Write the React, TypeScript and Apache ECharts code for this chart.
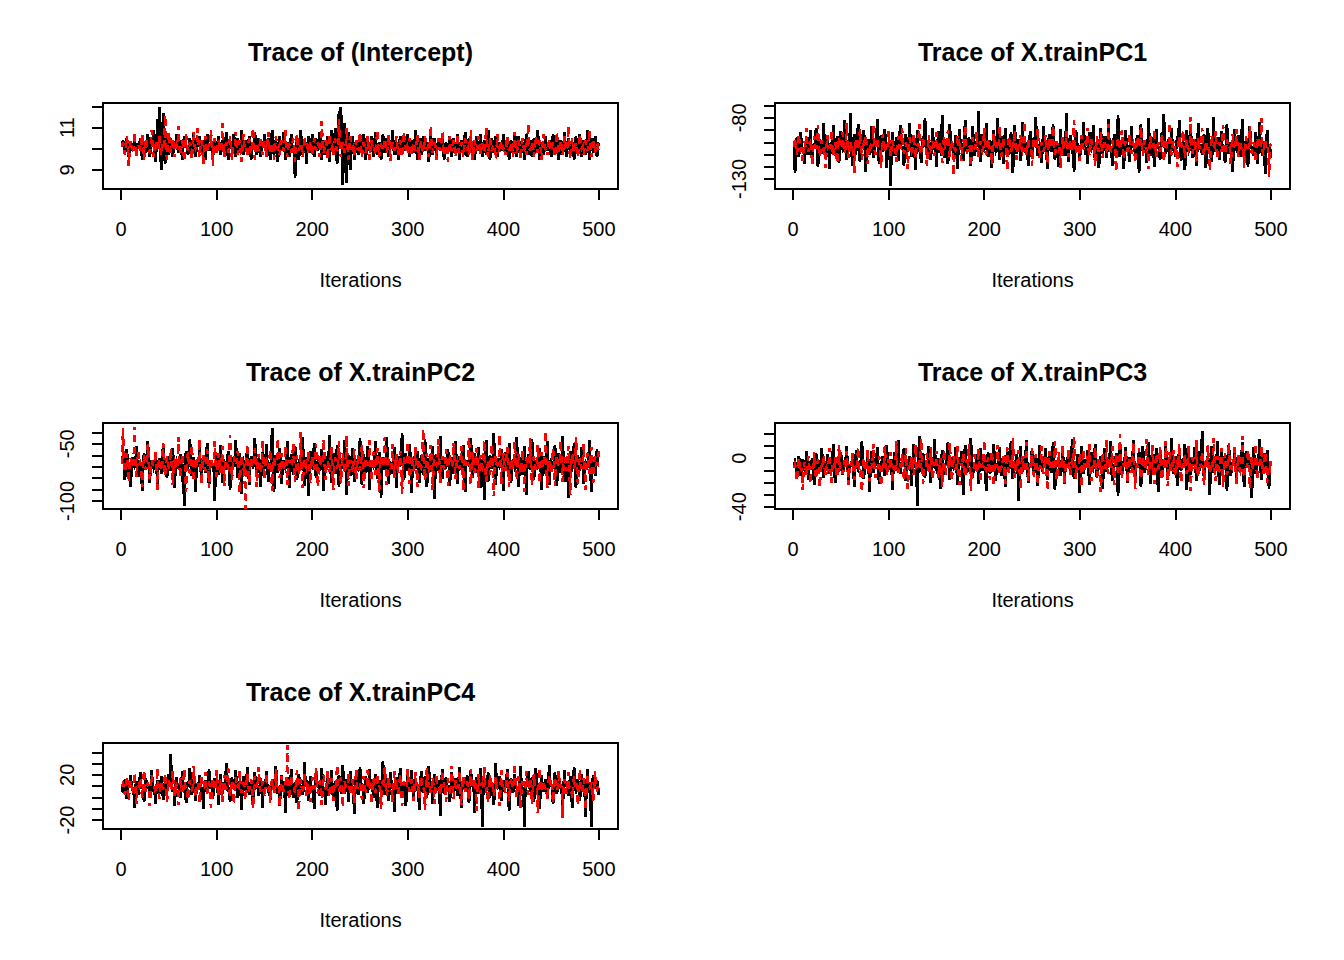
import React, { useEffect, useRef } from "react";
import * as echarts from "echarts";

// ---------- data (one value per 2 iterations, chains return to a baseline between draws) ----------
const ITER_TICKS = [0, 100, 200, 300, 400, 500];
const TITLES = ["Trace of (Intercept)", "Trace of X.trainPC1", "Trace of X.trainPC2", "Trace of X.trainPC3", "Trace of X.trainPC4"];

const P1_BASE_A = 10.1;
const P1_BASE_B = 10.1;
const P1_A = [
  10.4, 9.8, 10.5, 9.6, 10.3, 9.9, 10.6, 9.7, 10.2, 10.5, 9.5, 10.3, 9.8, 10.7, 9.6, 10.4, 10.9, 9.4, 11.4, 12.0, 9.0, 11.7, 9.3, 10.6, 9.7,
  10.5, 9.6, 10.2, 10.7, 9.8, 10.4, 9.5, 10.6, 10.1, 9.7, 10.5, 9.9, 10.8, 9.6, 10.3, 10.6, 9.8, 10.4, 9.5, 10.7, 9.9, 10.3, 9.6, 10.5, 10.0,
  10.6, 9.7, 10.4, 9.9, 10.8, 9.5, 10.3, 10.0, 10.7, 9.6, 10.5, 9.8, 10.9, 9.7, 10.4, 9.9, 10.6, 9.5, 10.3, 10.8, 9.7, 10.5, 9.6, 10.2, 10.7,
  9.8, 10.5, 9.5, 10.9, 9.7, 10.4, 9.4, 10.6, 9.9, 10.8, 9.5, 10.3, 9.6, 10.7, 9.8, 8.6, 10.5, 9.5, 10.9, 9.7, 10.4, 9.3, 10.6, 9.8, 10.7,
  9.6, 10.5, 9.9, 10.8, 9.5, 10.4, 9.7, 10.6, 9.4, 10.9, 9.8, 11.0, 9.3, 11.8, 12.0, 8.3, 11.2, 8.4, 10.8, 9.0, 10.6, 9.5, 10.4, 9.7, 10.5,
  9.8, 10.7, 9.5, 10.4, 9.9, 10.6, 9.6, 10.8, 9.7, 10.3, 9.5, 10.7, 9.8, 10.5, 9.6, 10.4, 10.9, 9.7, 10.3, 9.5, 10.6, 9.8, 10.5, 9.9, 10.7,
  9.6, 10.4, 9.8, 10.9, 9.5, 10.5, 9.7, 10.6, 9.9, 10.3, 9.4, 10.8, 9.7, 10.5, 9.6, 10.4, 9.9, 10.7, 9.5, 10.3, 9.8, 10.6, 9.6, 10.5, 9.9,
  10.7, 9.5, 10.4, 9.7, 10.8, 9.6, 10.5, 9.8, 10.3, 9.5, 10.6, 9.9, 10.7, 9.6, 10.4, 9.7, 10.9, 9.5, 10.5, 9.8, 10.6, 9.6, 10.3, 9.9, 10.7,
  9.7, 10.5, 9.5, 10.4, 9.8, 10.8, 9.6, 10.6, 9.9, 10.3, 9.5, 10.7, 9.7, 10.4, 9.6, 10.5, 9.8, 10.9, 9.5, 10.3, 9.7, 10.6, 9.9, 10.4, 9.6,
  10.7, 9.8, 10.5, 9.5, 10.4, 9.7, 10.8, 9.6, 10.5, 9.9, 10.3, 9.5, 10.6, 9.8, 10.7, 9.6, 10.4, 9.7, 10.9, 9.5, 10.5, 9.8, 10.6, 9.6, 10.3,
];
const P1_B = [
  10.3, 9.7, 10.6, 9.2, 10.4, 10.0, 10.8, 9.6, 10.2, 9.9, 10.7, 9.5, 10.5, 10.1, 9.8, 10.9, 9.6, 10.4, 9.9, 10.6, 9.7, 10.3, 11.6, 9.5, 10.8,
  9.8, 10.5, 9.6, 10.2, 11.1, 9.7, 10.4, 9.4, 10.7, 9.9, 10.3, 9.5, 10.8, 10.0, 11.0, 9.6, 10.4, 9.3, 10.6, 9.8, 10.2, 10.9, 9.2, 10.5, 9.7,
  10.4, 9.9, 11.2, 9.6, 10.3, 9.8, 10.6, 9.5, 10.2, 10.8, 9.7, 10.4, 9.4, 10.7, 10.0, 9.6, 10.5, 9.8, 11.0, 9.5, 10.3, 9.9, 10.6, 9.7, 10.4,
  9.6, 10.8, 9.8, 10.3, 9.5, 10.6, 10.0, 9.7, 10.4, 9.9, 10.9, 9.6, 10.2, 9.8, 10.5, 9.4, 10.7, 9.9, 10.3, 9.6, 10.6, 10.0, 9.8, 10.4, 9.7,
  10.5, 9.9, 10.3, 9.6, 11.3, 9.8, 10.4, 9.5, 10.7, 10.0, 9.7, 10.5, 9.9, 11.4, 9.6, 10.3, 9.8, 11.0, 9.5, 10.6, 10.0, 9.7, 10.4, 9.9, 10.8,
  9.6, 10.3, 9.8, 10.6, 9.5, 10.4, 10.0, 9.7, 10.9, 9.6, 10.2, 9.9, 10.5, 9.8, 10.7, 9.4, 10.3, 9.9, 10.6, 9.7, 10.4, 9.6, 10.8, 10.0, 9.8,
  10.5, 9.7, 10.3, 9.9, 10.7, 9.5, 10.4, 9.8, 10.6, 10.0, 9.6, 11.1, 9.8, 10.3, 9.5, 10.5, 9.9, 10.8, 9.7, 10.2, 9.4, 10.6, 9.9, 10.4, 9.6,
  10.7, 9.8, 10.3, 9.6, 10.5, 10.0, 9.7, 10.9, 9.5, 10.4, 9.9, 10.6, 9.7, 10.3, 9.8, 11.0, 9.6, 10.5, 9.9, 10.2, 9.5, 10.7, 9.8, 10.4, 10.0,
  9.7, 10.6, 9.9, 10.3, 9.6, 10.8, 9.8, 10.4, 9.5, 10.5, 10.0, 9.7, 11.2, 9.9, 10.3, 9.6, 10.6, 9.8, 10.4, 9.5, 10.7, 10.0, 9.7, 10.5, 9.9,
  10.3, 9.6, 10.8, 9.8, 10.4, 9.7, 10.6, 9.9, 11.1, 9.5, 10.5, 9.8, 10.3, 9.6, 10.7, 10.0, 9.7, 10.4, 9.9, 10.9, 9.6, 10.5, 9.8, 10.3, 9.7,
];

const P2_BASE_A = -104;
const P2_BASE_B = -104;
const P2_A = [
  -125, -96, -112, -92, -108, -118, -99, -110, -90, -115, -102, -88, -120, -97, -109, -84, -113, -94, -122, -100, -86, -111, -95, -117, -91,
  -106, -82, -114, -98, -76, -119, -93, -107, -85, -116, -101, -90, -124, -97, -110, -87, -113, -99, -81, -118, -94, -108, -89, -121, -102,
  -136, -92, -111, -96, -115, -86, -104, -119, -93, -108, -84, -112, -100, -123, -90, -106, -117, -95, -80, -109, -98, -114, -88, -103, -120,
  -91, -107, -78, -113, -97, -118, -85, -105, -110, -94, -122, -89, -101, -115, -82, -108, -96, -119, -87, -111, -99, -74, -116, -93, -106,
  -84, -112, -98, -121, -90, -107, -80, -114, -95, -118, -88, -103, -110, -92, -125, -86, -109, -97, -115, -83, -106, -100, -119, -91, -113,
  -96, -79, -111, -102, -117, -87, -105, -122, -93, -108, -85, -114, -99, -120, -89, -104, -111, -76, -116, -94, -107, -124, -90, -102, -113,
  -97, -83, -110, -118, -92, -106, -86, -115, -100, -121, -88, -109, -95, -113, -81, -104, -119, -93, -108, -78, -112, -98, -122, -90, -105,
  -116, -87, -102, -110, -94, -125, -85, -107, -98, -117, -80, -111, -96, -120, -89, -104, -114, -92, -77, -109, -101, -118, -88, -106, -112,
  -95, -82, -115, -99, -123, -90, -107, -86, -113, -97, -119, -84, -105, -110, -93, -121, -88, -102, -116, -79, -108, -96, -114, -91, -103,
  -117, -85, -109, -100, -124, -89, -106, -94, -112, -81, -115, -98, -120, -87, -104, -111, -92, -118, -83, -107, -99, -126, -90, -105, -113,
];
const P2_B = [
  -97, -110, -93, -106, -115, -99, -88, -108, -101, -119, -95, -104, -86, -112, -98, -107, -121, -94, -103, -90, -111, -100, -117, -96, -105,
  -92, -109, -84, -113, -99, -106, -125, -97, -102, -89, -114, -101, -94, -118, -107, -99, -87, -110, -96, -104, -121, -93, -108, -100, -91,
  -112, -98, -105, -116, -95, -103, -88, -109, -100, -122, -96, -107, -93, -113, -101, -85, -110, -97, -104, -119, -94, -106, -99, -111, -92,
  -108, -100, -117, -95, -103, -90, -112, -98, -127, -106, -94, -101, -115, -97, -86, -109, -102, -120, -96, -105, -91, -113, -99, -107, -88,
  -110, -97, -104, -118, -93, -106, -100, -87, -112, -96, -103, -123, -95, -108, -99, -90, -114, -101, -94, -107, -83, -111, -98, -105, -119,
  -96, -102, -89, -113, -100, -108, -94, -117, -97, -104, -86, -110, -99, -106, -121, -95, -103, -91, -112, -98, -107, -82, -109, -101, -115,
  -94, -105, -99, -88, -111, -97, -103, -119, -95, -108, -92, -113, -100, -106, -85, -110, -98, -104, -124, -96, -102, -90, -114, -99, -107,
  -93, -109, -101, -117, -96, -104, -87, -111, -98, -106, -122, -95, -103, -89, -112, -100, -108, -94, -116, -97, -105, -84, -110, -99, -107,
  -120, -95, -102, -90, -113, -98, -106, -79, -109, -101, -116, -96, -104, -88, -111, -99, -107, -123, -94, -103, -91, -114, -100, -108, -86,
  -110, -97, -105, -118, -93, -102, -89, -112, -99, -106, -121, -95, -104, -87, -109, -100, -116, -96, -103, -80, -111, -98, -107, -128, -101,
];

const P3_BASE_A = -68;
const P3_BASE_B = -68;
const P3_A = [
  -60, -82, -55, -75, -88, -62, -70, -52, -79, -66, -91, -58, -73, -48, -84, -64, -71, -57, -86, -63, -76, -50, -69, -80, -61,
  -74, -54, -89, -65, -72, -59, -83, -104, -56, -70, -46, -78, -62, -92, -67, -53, -81, -60, -75, -49, -87, -64, -71, -100, -58,
  -77, -51, -84, -66, -73, -56, -90, -62, -69, -47, -80, -58, -94, -65, -74, -53, -86, -61, -70, -45, -79, -63, -88, -57, -72,
  -50, -83, -67, -36, -92, -60, -75, -54, -85, -64, -71, -48, -89, -59, -77, -52, -82, -66, -73, -44, -87, -62, -96, -56, -70,
  -49, -80, -65, -74, -55, -91, -61, -69, -42, -84, -58, -76, -51, -88, -63, -72, -47, -95, -60, -78, -54, -83, -66, -71, -45,
  -86, -59, -75, -52, -90, -64, -70, -48, -81, -57, -97, -62, -73, -44, -85, -67, -76, -53, -89, -61, -69, -41, -82, -58, -74,
  -50, -93, -65, -72, -56, -84, -60, -77, -46, -88, -63, -71, -52, -98, -59, -74, -43, -81, -66, -70, -55, -87, -62, -76, -48,
  -85, -61, -73, -51, -92, -64, -69, -45, -80, -58, -75, -53, -89, -65, -99, -47, -83, -60, -72, -41, -86, -63, -70, -55, -91,
  -57, -74, -49, -84, -66, -71, -44, -88, -62, -77, -52, -95, -59, -73, -46, -82, -64, -70, -54, -90, -61, -76, -48, -86, -65,
  -72, -51, -87, -58, -75, -43, -83, -63, -97, -56, -71, -49, -89, -60, -74, -53, -85, -66, -70, -47, -92, -62, -78, -55, -68,
];
const P3_B = [
  -36, -75, -58, -84, -62, -71, -35, -79, -55, -66, -88, -60, -73, -50, -81, -64, -69, -56, -90, -63, -74, -49, -78, -61, -70,
  -54, -86, -65, -72, -44, -80, -59, -67, -92, -57, -76, -51, -83, -62, -70, -46, -85, -60, -74, -55, -89, -63, -68, -48, -79,
  -58, -75, -52, -87, -64, -71, -42, -82, -61, -69, -56, -93, -60, -73, -107, -50, -84, -63, -70, -54, -88, -59, -76, -47, -81,
  -65, -72, -55, -91, -62, -68, -45, -80, -58, -74, -52, -86, -64, -70, -49, -83, -60, -77, -40, -89, -63, -71, -56, -85, -61,
  -73, -50, -88, -59, -69, -46, -82, -65, -75, -53, -90, -62, -70, -48, -84, -58, -76, -43, -87, -64, -71, -55, -81, -60, -74,
  -51, -89, -63, -68, -47, -83, -57, -77, -54, -92, -61, -70, -44, -86, -65, -72, -50, -80, -59, -75, -56, -94, -62, -69, -48,
  -85, -60, -74, -53, -88, -64, -71, -37, -82, -58, -76, -51, -90, -63, -69, -46, -84, -61, -73, -55, -87, -59, -70, -49, -81,
  -65, -72, -52, -91, -62, -68, -44, -86, -57, -75, -54, -89, -60, -71, -47, -83, -64, -77, -50, -96, -61, -69, -42, -85, -58,
  -74, -53, -88, -63, -70, -48, -82, -59, -76, -55, -92, -62, -68, -45, -86, -61, -73, -51, -84, -57, -71, -39, -89, -64, -75,
  -54, -87, -60, -69, -47, -83, -62, -74, -52, -95, -59, -70, -44, -85, -63, -72, -50, -90, -58, -76, -53, -84, -61, -67, -56,
];

const P4_BASE_A = -6;
const P4_BASE_B = -8;
const P4_A = [
  -3, -12, 2, -15, -1, -9, 6, -18, -4, 0, -22, 4, -10, -2, 8, -16, -5, 3, -13, -7, 12, -20, -1, -11, 5,
  -14, -3, 10, -19, -6, 1, -24, 7, -9, -2, 14, -17, -5, 3, -28, 6, -12, 0, 9, -21, -4, 2, -15, 11, -8,
  -1, -26, 5, -10, 15, -13, -3, 8, -19, -6, 2, -23, 12, -7, -39, 18, -11, 4, -16, -2, 10, -20, -5, 16, -9,
  0, -25, 7, -14, -4, 13, -18, 1, -8, 9, -22, -3, 6, -30, 11, -12, -1, 17, -16, -6, 3, -21, 8, -10, 2,
  -27, 5, -13, -2, 12, -19, -7, 9, -15, 0, -24, 6, -9, 14, -17, -4, 3, -35, 10, -11, -1, 15, -20, -6, 7,
  -14, 2, -23, 11, -8, -3, 8, -18, 4, -12, 13, -26, -5, 1, -15, 9, -21, -2, 6, -10, 16, -17, -7, 3, -29,
  10, -13, -1, 7, -22, 5, -9, 12, -16, -4, 2, -25, 8, -11, 0, 14, -19, -6, 4, -31, 11, -14, -3, 9, -20,
  1, -8, 15, -17, -5, 6, -24, 10, -12, -2, 13, -21, 3, -9, 8, -28, 5, -15, -1, 11, -18, -7, 17, -13, 2,
  -23, 7, -10, 0, 12, -26, 4, -14, -3, 9, -19, 6, -8, 22, -16, -5, 2, -30, 10, -12, -1, 14, -22, 5, -9,
  3, -27, 11, -15, -4, 8, -20, 1, -11, 13, -24, 6, -7, 0, -33, 9, -13, -2, 16, -18, 4, -10, 7, -25, -3,
];
const P4_B = [
  -5, -19, 0, -12, -26, -3, -15, 2, -21, -8, 5, -17, -1, -24, -6, 3, -14, -10, 8, -20, -4, 1, -16, 11, -7,
  -13, -2, 6, -22, -9, 4, -18, -5, 9, -15, -28, 0, -11, 7, -19, -3, 12, -16, -8, 2, -23, -6, 10, -14, -1,
  5, -20, -9, 14, -12, -4, 3, -17, 8, -25, -6, 1, -14, 11, -10, -2, 16, -21, -7, 4, -13, 9, -18, -3, 6,
  -16, 0, -24, 7, -11, -5, 13, -19, 2, -9, 10, -22, -4, 5, -15, -1, 12, -27, -8, 3, -13, 8, -20, -6, 15,
  -10, 1, -18, 6, -23, -3, 11, -14, -7, 4, -21, 9, -12, 0, 17, -16, -5, 7, -26, 2, -11, 13, -19, -4, 8,
  -15, 3, -22, -8, 10, -13, 1, -27, 6, -10, -2, 14, -18, 5, -6, 11, -21, -3, 8, -14, 0, 18, -17, -9, 4,
  -24, 7, -11, 2, 12, -19, -5, 9, -15, 0, -28, 5, -8, 15, -13, -1, 10, -22, 3, -10, 20, -16, -4, 6, -20,
  1, -12, 13, -25, -6, 8, -17, 2, -9, 16, -14, -3, 11, -21, 4, -7, 9, -18, -1, 14, -23, 5, -11, 7, -15,
  -2, 12, -20, -6, 3, -13, 10, -27, 1, -8, 15, -16, -4, 6, -22, 0, 11, -12, -5, 17, -19, 2, -10, 8, -24,
  4, -14, 13, -7, -1, 9, -21, 3, -11, 18, -16, -5, 7, -25, 1, -9, 12, -18, -3, 10, -13, 5, -20, -6, -2,
];

const P5_BASE_A = 9;
const P5_BASE_B = 9;
const P5_A = [
  4, 16, -1, 12, 20, 7, -9, 14, 2, 22, 9, -4, 17, 11, 1, 24, 6, -6, 15, 3, 19, -2, 13, 8, 21,
  38, 5, -8, 18, 10, 0, 23, 7, -5, 14, 26, 2, 16, -3, 11, 20, 6, -10, 15, 4, 25, 9, -1, 17, 12,
  -7, 21, 3, 13, 30, 5, -4, 18, 8, 24, 0, 14, -11, 19, 7, 27, 2, 15, -6, 22, 10, 1, 17, -9, 12,
  23, 6, -2, 16, 9, 28, 3, -8, 20, 11, -14, 18, 4, 25, 0, 13, -5, 21, 8, 2, 31, 15, -3, 19, 7,
  -10, 22, 12, 1, 26, 5, -7, 17, 10, 24, -1, 14, -12, 20, 6, 29, 3, 16, -4, 23, 9, -15, 18, 2, 27,
  11, -6, 19, 4, 25, 13, 0, 21, -9, 15, 7, 32, 2, 17, -3, 22, 10, -13, 18, 5, 26, 1, 14, -8, 20,
  8, 24, -2, 16, 11, -11, 23, 4, 19, 0, 28, 13, -6, 21, 7, 15, -16, 25, 3, 18, 10, -4, 22, 6, 17,
  1, 27, -9, 14, 9, 20, -5, 24, 12, -14, 18, 3, 26, -26, 16, 6, 22, 0, 13, -7, 30, 8, 19, -3, 15,
  11, 25, -12, 17, 4, 21, 9, -8, 28, 2, -26, 14, 23, 7, 18, -4, 26, 10, -10, 20, 5, 16, -1, 29, 12,
  -6, 22, 3, 18, 8, -13, 24, 14, 1, 19, -9, 27, 6, 16, -3, 21, 11, -17, 25, 4, -26, 20, 9, 15, 2,
];
const P5_B = [
  12, 2, 19, -3, 15, 7, 22, -6, 10, 17, 0, 24, 5, 13, -8, 20, 9, 3, 26, -1, 14, 8, 21, -4, 16,
  6, 23, 1, 11, -7, 18, 4, 25, 10, -2, 15, 7, 28, 0, 13, -5, 19, 9, 22, 3, 14, -9, 17, 6, 24,
  2, 12, -4, 20, 8, 26, 1, 15, -6, 18, 10, 23, 4, 13, -3, 21, 7, 16, -10, 19, 11, 27, 5, 14, 0,
  22, 8, -5, 17, 3, 25, 12, -8, 19, 6, 14, 46, -2, 20, 9, 4, 24, -12, 16, 7, 21, 1, 13, -4, 18,
  10, 26, 3, 15, -7, 20, 8, 23, 0, 17, -3, 12, 29, 5, 18, -9, 14, 9, 22, 2, 16, -5, 25, 7, 11,
  -2, 19, 6, 24, 13, -6, 17, 4, 21, 10, -10, 15, 27, 1, 18, 8, -4, 23, 12, 3, 20, -8, 14, 9, 25,
  5, 16, -3, 22, 11, 0, 19, 7, -11, 26, 14, 4, 18, -6, 21, 9, 2, 24, 13, -4, 17, 6, 28, -1, 15,
  10, 23, -7, 19, 5, 14, -2, 25, 8, 17, -12, 21, 3, 12, 27, 6, -5, 20, 15, 1, 18, 9, -8, 24, 11,
  4, 22, -3, 16, 13, 30, 0, 19, -9, 14, 7, 23, 2, 17, -6, 21, 10, -14, 26, 5, 15, 8, -2, 20, 12,
  -5, 18, 6, 24, 11, -18, 16, 3, 22, 9, -1, 19, 14, -7, 25, 4, 17, -11, 21, 8, 13, -3, 23, 7, 10,
];

// y-axis extents (R's 4% padding), tick positions and the labels R kept
const Y_MIN = [8.1, -138.2, -107, -41.9, -28];
const Y_MAX = [12.17, -67.8, -31.8, 29, 48.2];
const Y_TICKS = [
  [9, 10, 11, 12],
  [-130, -120, -110, -100, -90, -80, -70],
  [-100, -90, -80, -70, -60, -50, -40],
  [-40, -30, -20, -10, 0, 10, 20],
  [-20, -10, 0, 10, 20, 30, 40],
];
const Y_LABELS = [[9, 11], [-130, -80], [-100, -50], [-40, 0], [-20, 20]];
const X_MIN = -18.96;
const X_MAX = 519.96;

const CHAINS = [
  [P1_A, P1_BASE_A, P1_B, P1_BASE_B],
  [P2_A, P2_BASE_A, P2_B, P2_BASE_B],
  [P3_A, P3_BASE_A, P3_B, P3_BASE_B],
  [P4_A, P4_BASE_A, P4_B, P4_BASE_B],
  [P5_A, P5_BASE_A, P5_B, P5_BASE_B],
] as [number[], number, number[], number][];

const FONT = '"Liberation Sans", Arial, Helvetica, sans-serif';

function trace(values: number[], base: number) {
  const out: number[][] = [];
  values.forEach((v, k) => {
    out.push([2 * k + 1, base]);
    out.push([2 * k + 2, v]);
  });
  return out;
}

export default function App() {
  const ref = useRef<HTMLDivElement>(null);
  useEffect(() => {
    document.body.style.margin = "0";
    if (!ref.current) return;
    const chart = echarts.init(ref.current, undefined, { renderer: "svg" });

    const grids: any[] = [];
    const xAxes: any[] = [];
    const yAxes: any[] = [];
    const series: any[] = [];
    const graphics: any[] = [];

    for (let i = 0; i < 5; i++) {
      const col = i % 2;
      const row = Math.floor(i / 2);
      const left = 103 + 672 * col;
      const top = 103 + 320 * row;
      grids.push({
        left,
        top,
        width: 515,
        height: 86,
        show: true,
        borderColor: "#000",
        borderWidth: 1.8,
        backgroundColor: "transparent",
      });
      xAxes.push({
        type: "value",
        gridIndex: i,
        min: X_MIN,
        max: X_MAX,
        position: "bottom",
        name: "Iterations",
        nameLocation: "middle",
        nameGap: 81,
        nameTextStyle: { fontFamily: FONT, fontSize: 20, color: "#000" },
        axisLine: { show: false, onZero: false },
        axisTick: { show: true, inside: false, length: 11, customValues: ITER_TICKS, lineStyle: { color: "#000", width: 1.6 } },
        axisLabel: { show: true, customValues: ITER_TICKS, margin: 30, fontFamily: FONT, fontSize: 20, color: "#000" },
        splitLine: { show: false },
      });
      yAxes.push({
        type: "value",
        gridIndex: i,
        min: Y_MIN[i],
        max: Y_MAX[i],
        position: "left",
        axisLine: { show: false, onZero: false },
        axisTick: { show: true, inside: false, length: 11, customValues: Y_TICKS[i], lineStyle: { color: "#000", width: 1.6 } },
        axisLabel: { show: true, customValues: Y_LABELS[i], rotate: 90, margin: 26, fontFamily: FONT, fontSize: 20, color: "#000" },
        splitLine: { show: false },
      });
      const [a, ba, b, bb] = CHAINS[i];
      series.push({
        type: "line",
        xAxisIndex: i,
        yAxisIndex: i,
        data: trace(a, ba),
        showSymbol: false,
        symbol: "none",
        silent: true,
        lineStyle: { color: "#000000", width: 2.8, type: "solid", cap: "butt", join: "miter" },
        z: 2,
      });
      series.push({
        type: "line",
        xAxisIndex: i,
        yAxisIndex: i,
        data: trace(b, bb),
        showSymbol: false,
        symbol: "none",
        silent: true,
        lineStyle: { color: "#ff0000", width: 2.6, type: [7, 5], cap: "butt", join: "miter" },
        z: 3,
      });
      graphics.push({
        type: "text",
        x: 360.5 + 672 * col,
        y: 52 + 320 * row,
        style: {
          text: TITLES[i],
          font: `bold 25px ${FONT}`,
          fill: "#000",
          textAlign: "center",
          textVerticalAlign: "middle",
        },
      });
    }

    chart.setOption({
      animation: false,
      backgroundColor: "#ffffff",
      grid: grids,
      xAxis: xAxes,
      yAxis: yAxes,
      series,
      graphic: graphics,
    });
    return () => chart.dispose();
  }, []);
  return (
    <>
      <style>{`svg path { shape-rendering: crispEdges; }`}</style>
      <div ref={ref} style={{ width: 1344, height: 960 }} />
    </>
  );
}
